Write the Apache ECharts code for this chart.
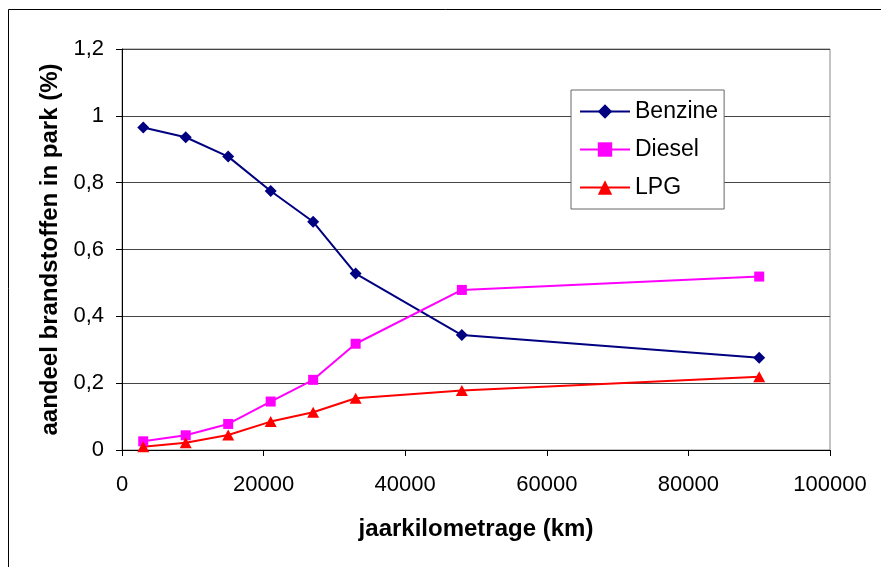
<!DOCTYPE html>
<html>
<head>
<meta charset="utf-8">
<script src="https://cdn.jsdelivr.net/npm/echarts@6/dist/echarts.min.js"></script>
<style>html,body{margin:0;padding:0;background:#fff}#c{width:881px;height:567px}</style>
</head>
<body>
<div id="c"></div>
<script>
var km = [3000, 9000, 15000, 21000, 27000, 33000, 48000, 90000];
var benzine = [0.965, 0.936, 0.878, 0.775, 0.683, 0.528, 0.344, 0.276];
var diesel = [0.026, 0.044, 0.078, 0.145, 0.21, 0.318, 0.479, 0.519];
var lpg = [0.01, 0.022, 0.045, 0.085, 0.113, 0.155, 0.178, 0.219];
var seriesNames = ['Benzine', 'Diesel', 'LPG'];
var xTitle = 'jaarkilometrage (km)';
var yTitle = 'aandeel brandstoffen in park (%)';

function pairs(ys) { return km.map(function (x, i) { return [x, ys[i]]; }); }
var font = 'Liberation Sans, Arial, sans-serif';
var chart = echarts.init(document.getElementById('c'));
chart.setOption({
  animation: false,
  backgroundColor: '#fff',
  graphic: [{
    type: 'rect', z: 100, silent: true,
    shape: { x: 8.5, y: 9.5, width: 1000, height: 1000 },
    style: { fill: null, stroke: '#000', lineWidth: 1 }
  }],
  grid: { left: 122, right: 51, top: 49, bottom: 117, show: true, borderColor: '#888', borderWidth: 1, backgroundColor: 'transparent' },
  legend: {
    orient: 'vertical', left: 571, top: 90,
    padding: [10, 6, 10, 8], itemGap: 15, itemWidth: 50, itemHeight: 18,
    backgroundColor: '#fff', borderColor: '#666', borderWidth: 1,
    textStyle: { fontFamily: font, fontSize: 23, color: '#000' },
    data: seriesNames
  },
  xAxis: {
    type: 'value', min: 0, max: 100000, interval: 20000,
    name: xTitle, nameLocation: 'middle', nameGap: 67,
    nameTextStyle: { fontFamily: font, fontSize: 24, fontWeight: 'bold', color: '#000' },
    axisLine: { lineStyle: { color: '#000', width: 1 } },
    axisTick: { show: true, length: 6, inside: false, lineStyle: { color: '#000' } },
    axisLabel: { fontFamily: font, fontSize: 22, color: '#000', margin: 24,
      formatter: function (v) { return String(v); } },
    splitLine: { show: false }
  },
  yAxis: {
    type: 'value', min: 0, max: 1.2, interval: 0.2,
    name: yTitle, nameLocation: 'middle', nameGap: 58, nameRotate: 90,
    nameTextStyle: { fontFamily: font, fontSize: 24, fontWeight: 'bold', color: '#000' },
    axisLine: { show: true, lineStyle: { color: '#000', width: 1 } },
    axisTick: { show: true, length: 6, lineStyle: { color: '#000' } },
    axisLabel: {
      fontFamily: font, fontSize: 22, color: '#000', margin: 18,
      formatter: function (v) { return String(Math.round(v * 10) / 10).replace('.', ','); }
    },
    splitLine: { show: true, lineStyle: { color: '#444', width: 1 } }
  },
  series: [
    { name: seriesNames[0], type: 'line', data: pairs(benzine), symbol: 'diamond', symbolSize: 12,
      itemStyle: { color: '#000080' }, lineStyle: { color: '#000080', width: 2 } },
    { name: seriesNames[1], type: 'line', data: pairs(diesel), symbol: 'rect', symbolSize: 10,
      itemStyle: { color: '#FF00FF' }, lineStyle: { color: '#FF00FF', width: 2 } },
    { name: seriesNames[2], type: 'line', data: pairs(lpg), symbol: 'triangle', symbolSize: [12, 11],
      itemStyle: { color: '#FF0000' }, lineStyle: { color: '#FF0000', width: 2 } }
  ]
});
</script>
</body>
</html>
